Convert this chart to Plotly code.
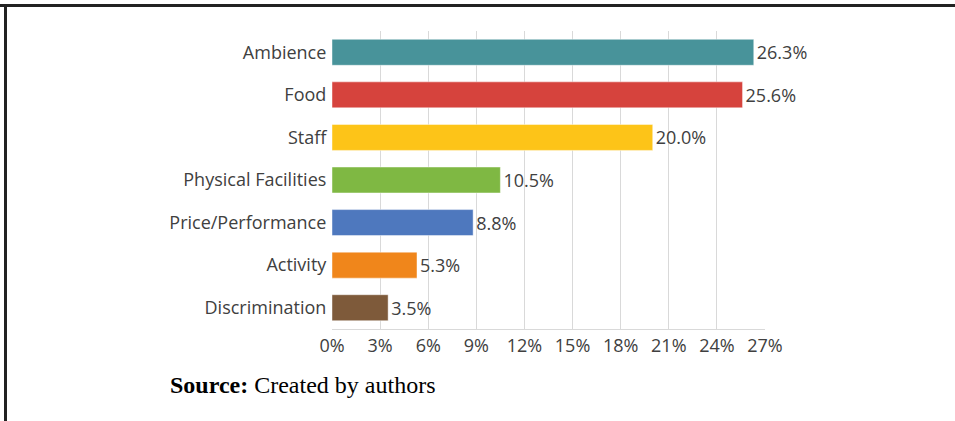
import plotly.graph_objects as go

categories = ["Ambience", "Food", "Staff", "Physical Facilities", "Price/Performance", "Activity", "Discrimination"]
values = [26.3, 25.6, 20.0, 10.5, 8.8, 5.3, 3.5]
colors = ["#48939A", "#D6433D", "#FDC418", "#7FB843", "#4E78BE", "#F0861B", "#7E5A3A"]
tick_vals = [0, 3, 6, 9, 12, 15, 18, 21, 24, 27]
tick_text = ["0%", "3%", "6%", "9%", "12%", "15%", "18%", "21%", "24%", "27%"]

W, H = 955, 421
L, R, T, B = 332, 955 - 765, 31, 421 - 329

fig = go.Figure(go.Bar(
    x=values, y=categories, orientation="h",
    marker=dict(color=colors, line=dict(color="rgba(255,255,255,0.45)", width=1)),
    text=[f"{v:.1f}%" for v in values], textposition="outside",
    textfont=dict(family="Open Sans", size=18, color="#404040"),
    cliponaxis=False,
))

pw, ph = W - L - R, H - T - B
def px(xp): return (xp - L) / pw
def py(yp): return (H - B - yp) / ph

fig.update_layout(
    width=W, height=H, margin=dict(l=L, r=R, t=T, b=B),
    paper_bgcolor="white", plot_bgcolor="white",
    bargap=0.39, showlegend=False,
    font=dict(family="Open Sans", size=18, color="#404040"),
    xaxis=dict(range=[0, 27], tickvals=tick_vals, ticktext=tick_text,
               showgrid=True, gridcolor="#D9D9D9", gridwidth=1,
               showline=True, linecolor="#D9D9D9", linewidth=1,
               zeroline=False, ticks="", tickfont=dict(size=18, color="#404040"),
               fixedrange=True),
    yaxis=dict(autorange="reversed", showgrid=False, showline=False, ticks="",
               ticksuffix=" ", tickfont=dict(size=18, color="#404040"), fixedrange=True),
    shapes=[
        dict(type="line", xref="paper", yref="paper", x0=px(0), x1=px(W), y0=py(5.5), y1=py(5.5),
             line=dict(color="#222222", width=3), layer="above"),
        dict(type="line", xref="paper", yref="paper", x0=px(5.5), x1=px(5.5), y0=py(4), y1=py(H),
             line=dict(color="#222222", width=3), layer="above"),
    ],
    annotations=[
        dict(xref="paper", yref="paper", x=px(168), y=py(385), xanchor="left", yanchor="middle",
             text="<b>Source:</b> Created by authors", showarrow=False,
             font=dict(family="Liberation Serif", size=24, color="black")),
    ],
)

fig.write_html("out.html")
